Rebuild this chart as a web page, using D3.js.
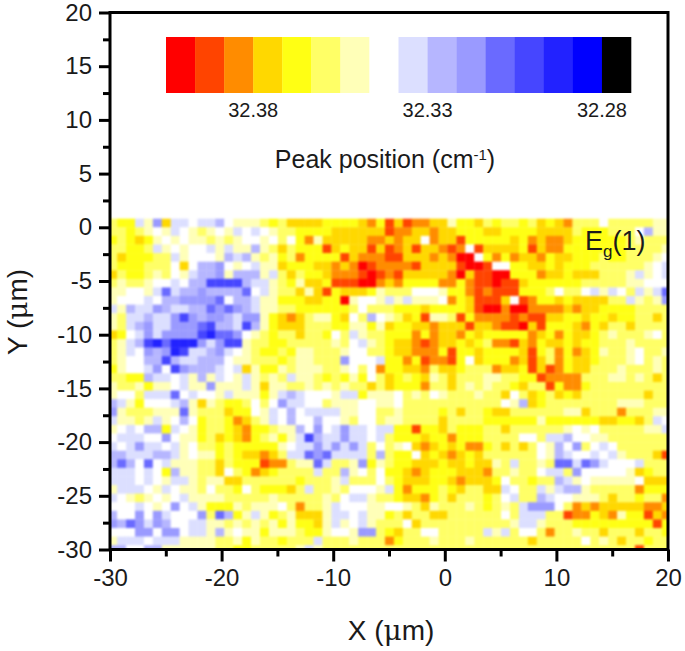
<!DOCTYPE html>
<html>
<head>
<meta charset="utf-8">
<script src="https://cdnjs.cloudflare.com/ajax/libs/d3/7.8.5/d3.min.js"></script>
<style>
body{margin:0;background:#fff}
text{font-family:"Liberation Sans",Arial,sans-serif;fill:#1a1a1a}
</style>
</head>
<body>
<div id="chart-area"></div>
<script>
// legend colours, highest peak position first
var levelColors=["#ff0000","#ff4400","#ff8c00","#ffd800","#ffff14","#ffff66","#ffffb8","#ffffff",
                 "#dcdfff","#b6b6ff","#9a9aff","#6a6aff","#4646ff","#2222ff","#0000ff","#000000"];
var legendTicks=[32.38,32.33,32.28];
var xMajor=[-30,-20,-10,0,10,20];
var xMinor=[-25,-15,-5,5,15];
var yMajor=[20,15,10,5,0,-5,-10,-15,-20,-25,-30];
var yMinor=[17.5,12.5,7.5,2.5,-2.5,-7.5,-12.5,-17.5,-22.5,-27.5];

// map cells, one hex digit per cell = legend level, top row first
var peakLeft=["54486a388788976665453","554567687656768787655","454346767665656776757","554458676778686696535",
"534445586777698965645","544455573799a76786634","354456576899a69996853","56556778799cccc988654",
"667768b899a9999b78655","67778799aaaab79986644","86988a98899baba986655","6588988aca9aa98aa6432",
"6589a88aaabc998c96433","3478a8aaaacdbba765455","5689cdbddda8acc655445","5687a9adc889a87654454",
"567799c98899976655545","46778a7ca999878364465","554498878696876865658","65564667866a666863665",
"6775888b7877686664689","9864777896365445757a8","a6555666b655534476879","866568679745542356879",
"678799487645543244566","788877a76645343245646","878a88786755454444467","998889986766454332358",
"9b97b7866655354441225","888787496655375423455","888787688656633555555","688876876657554754443",
"876567678666655555655","7778767a7864446566675","977a7a8777a5b94686456","a9ba8a977886656565646",
"777aa7aa7886967664666","688878886666556465545","997799666666554455555"];
var peakMiddle=["333444432413122336443","444433333312233233444","426333332232337233144","444134331312313321271",
"244441322211333232007","443323201222213333100","544322210121333332031","633411100232444422421",
"363143334655577764421","433440677686866672431","444444575554443444431","356643759765341665142",
"355544664634433233313","355475865544424233243","555565786543321233434","665556775543322241443",
"66555a777844241221473","666556757244332533455","665454647534543653555","565656553534442553565",
"877768846667565765556","877566677667555555555","788886677556555545355","779776577566555535555",
"97a78a887884414435444","8c988a887854443442444","88a8a8a85756732343422","8bab88885954473432343",
"66b8556a4654433343343","558559675744323444333","455568555754333443233","585565777684244454355",
"555657886554332453555","255687776677653655565","333688786645355335555","443686786555735555555",
"5446776aa543557755555","558555655524555655565","686555555555555555555"];
var peakRight=["545545343255575555566","334444333354445557966","444342322344444456555","333341322444444455556",
"424233243344454455567","177443343444555555678","100444233433355568678","101134444445555566777",
"21114445755786875868b","11371244343333558656a","002002222323344445555","222121133443443445535",
"321103144432435535555","444442342433456555675","522132433434455565555","444431452423465567556",
"444231352433455567565","523341312433555655565","665544122225556656535","655435514224555555555",
"553753453435555555355","557693455555555666555","433555555663555255566","444444644444433443587",
"553555555676755555668","555577588977665555555","4535357697a5787555555","555555769877878655531",
"36585565bb8ba87778555","2556557885a7777763455","347554559867666667333","338755868996555552444",
"457855987766653554552","45658aaa7523233333223","557588855122432644132","555688655544444444414",
"868577525565535553554","555553555557565355455","555555555555555551555"];

var margin={top:12.5,left:110,right:17,bottom:101.5};
var width=685-margin.left-margin.right;
var height=651-margin.top-margin.bottom;

var svg=d3.select("#chart-area").append("svg").attr("width",685).attr("height",651);
var g=svg.append("g").attr("transform","translate("+margin.left+","+margin.top+")");

var x=d3.scaleLinear().domain([-30,20]).range([0,width]);
var y=d3.scaleLinear().domain([-30,20]).range([height,0]);

// grid: 0.8 um step, starts just left of the frame and at y=0.8
var step=0.8,xStart=-30.16,yStart=0.8;

var cells=[];
peakLeft.forEach(function(row,r){
	var line=row+peakMiddle[r]+peakRight[r];
	line.split("").forEach(function(ch,c){
		cells.push({col:c,row:r,level:parseInt(ch,16)});
	});
});

svg.append("defs").append("clipPath").attr("id","frame")
	.append("rect").attr("width",width).attr("height",height);

g.append("g").attr("clip-path","url(#frame)")
	.append("g").style("filter","blur(1.1px)")
	.selectAll("rect").data(cells).enter().append("rect")
	.attr("x",function(d){return x(xStart+d.col*step);})
	.attr("y",function(d){return y(yStart-d.row*step);})
	.attr("width",x(step)-x(0)+0.3)
	.attr("height",y(0)-y(step)+0.3)
	.attr("fill",function(d){return levelColors[d.level];});

// frame
g.append("rect").attr("width",width).attr("height",height)
	.attr("fill","none").attr("stroke","#000").attr("stroke-width",3);

// axes, plain hyphen for negatives like the original
var plain=function(d){return String(d);};
function styleAxis(a,size){
	a.select(".domain").remove();
	a.selectAll("line").attr("stroke","#000").attr("stroke-width",3);
	a.selectAll("text").style("font-size",size+"px");
}
var xaxisgroup=g.append("g").attr("transform","translate(0,"+height+")")
	.call(d3.axisBottom(x).tickValues(xMajor).tickFormat(plain).tickSize(12).tickPadding(7));
styleAxis(xaxisgroup,24);
var xminorgroup=g.append("g").attr("transform","translate(0,"+height+")")
	.call(d3.axisBottom(x).tickValues(xMinor).tickSize(7).tickFormat(""));
styleAxis(xminorgroup,24);
var yaxisgroup=g.append("g")
	.call(d3.axisLeft(y).tickValues(yMajor).tickFormat(plain).tickSize(11).tickPadding(7));
styleAxis(yaxisgroup,24);
var yminorgroup=g.append("g")
	.call(d3.axisLeft(y).tickValues(yMinor).tickSize(7).tickFormat(""));
styleAxis(yminorgroup,24);

// axis titles
var xLabel=svg.append("text").attr("x",391).attr("y",640)
	.attr("text-anchor","middle").style("font-size","28px");
xLabel.append("tspan").text("X (");
xLabel.append("tspan").text("\u03bc").style("font-family","DejaVu Serif");
xLabel.append("tspan").text("m)");
var yLabel=svg.append("text").attr("transform","translate(27,312) rotate(-90)")
	.attr("text-anchor","middle").style("font-size","28px");
yLabel.append("tspan").text("Y (");
yLabel.append("tspan").text("\u03bc").style("font-family","DejaVu Serif");
yLabel.append("tspan").text("m)");

// colour legend
var legendX=d3.scaleBand().domain(d3.range(levelColors.length)).range([166,631]);
svg.append("g").selectAll("rect").data(levelColors).enter().append("rect")
	.attr("x",function(d,i){return legendX(i);})
	.attr("y",37).attr("height",56)
	.attr("width",legendX.bandwidth()+0.3)
	.attr("fill",function(d){return d;});
// 32.38 sits at the edge of block 3, 32.28 at the edge of block 15
var legendScale=d3.scaleLinear().domain([32.38,32.28]).range([legendX(3),legendX(15)]);
svg.append("g").selectAll("text").data(legendTicks).enter().append("text")
	.attr("x",function(d){return legendScale(d);})
	.attr("y",117).attr("text-anchor","middle").style("font-size","20px")
	.text(function(d){return d.toFixed(2);});

var legendTitle=svg.append("text").attr("x",385).attr("y",168)
	.attr("text-anchor","middle").style("font-size","25px");
legendTitle.append("tspan").text("Peak position (cm");
legendTitle.append("tspan").text("-1").attr("dy",-8).style("font-size","15px");
legendTitle.append("tspan").text(")").attr("dy",8);

var modeLabel=svg.append("text").attr("x",585).attr("y",250).style("font-size","27px");
modeLabel.append("tspan").text("E");
modeLabel.append("tspan").text("g").attr("dy",7).style("font-size","17px");
modeLabel.append("tspan").text("(1)").attr("dy",-7);
</script>
</body>
</html>
